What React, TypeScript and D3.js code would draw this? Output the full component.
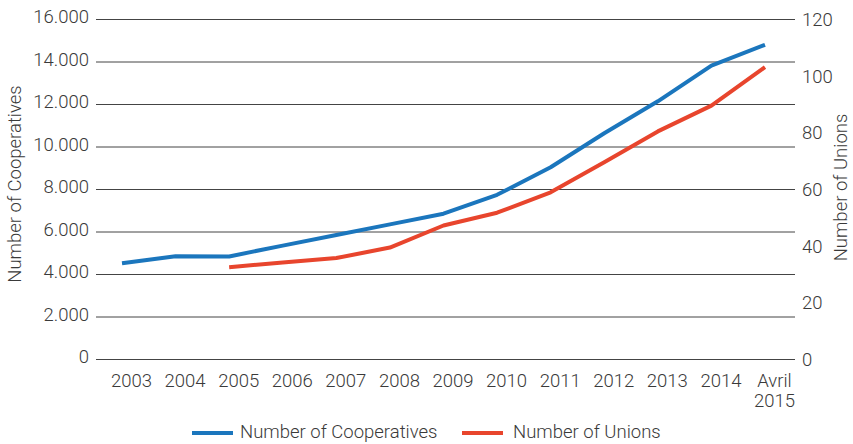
import React from "react";
import * as d3 from "d3";

const categories = ["2003","2004","2005","2006","2007","2008","2009","2010","2011","2012","2013","2014","Avril 2015"];
const cooperatives = [4530, 4860, 4850, 5360, 5860, 6360, 6860, 7750, 9050, 10650, 12150, 13830, 14810];
const unions: (number | null)[] = [null, null, 32.6, 34.2, 35.8, 39.5, 47.3, 51.8, 59.0, 69.6, 80.5, 89.6, 103.2];
const leftTicks = [0, 2000, 4000, 6000, 8000, 10000, 12000, 14000, 16000];
const rightTicks = [0, 20, 40, 60, 80, 100, 120];
const seriesNames = ["Number of Cooperatives", "Number of Unions"];

const W = 853, H = 444;
const BLUE = "#1b76bd";
const RED = "#e8452d";
const TEXT = "#3a3a3a";
const FONT = "Roboto, 'Liberation Sans', sans-serif";

export default function App() {
  const x = d3.scalePoint<string>().domain(categories).range([122, 765]);
  const yL = d3.scaleLinear().domain([0, 16000]).range([359.5, 19.5]);
  const yR = d3.scaleLinear().domain([0, 120]).range([359.5, 19.5]);
  const fmt = (v: number) => d3.format(",")(v).replace(/,/g, ".");

  const lineL = d3.line<number>()
    .x((_, i) => x(categories[i])!)
    .y((d) => yL(d));
  const lineR = d3.line<number | null>()
    .defined((d) => d != null)
    .x((_, i) => x(categories[i])!)
    .y((d) => yR(d as number));

  return (
    <svg width={W} height={H} style={{ position: "absolute", left: 0, top: 0, background: "#fff" }}
      fontFamily={FONT} fontWeight={300}>
      {leftTicks.map((t) => (
        <line key={"g" + t} x1={96} x2={795} y1={yL(t)} y2={yL(t)} stroke="#444" strokeWidth={1} />
      ))}
      {leftTicks.map((t) => (
        <text key={"l" + t} x={89} y={yL(t) + 3.5} textAnchor="end" fontSize={18.5} fill={TEXT}>{fmt(t)}</text>
      ))}
      {rightTicks.map((t) => (
        <text key={"r" + t} x={802} y={yR(t) + 6.6} textAnchor="start" fontSize={18.5} fill={TEXT}>{t}</text>
      ))}
      {categories.map((c) => {
        const parts = c.split(" ");
        return (
          <text key={"x" + c} x={x(c)! + 9.5} y={387} textAnchor="middle" fontSize={18.5} fill={TEXT}>
            {parts.map((p, i) => (
              <tspan key={i} x={x(c)! + 9.5} dy={i === 0 ? 0 : 20}>{p}</tspan>
            ))}
          </text>
        );
      })}
      <text transform="translate(20.5,184) rotate(-90)" textAnchor="middle" fontSize={18.5} fill={TEXT}>Number of Cooperatives</text>
      <text transform="translate(847,187.5) rotate(-90)" textAnchor="middle" fontSize={18.5} fill={TEXT}>Number of Unions</text>

      <path d={lineL(cooperatives) || ""} fill="none" stroke={BLUE} strokeWidth={4} strokeLinejoin="round" />
      <path d={lineR(unions) || ""} fill="none" stroke={RED} strokeWidth={4} strokeLinejoin="round" />

      <line x1={192} x2={233} y1={433} y2={433} stroke={BLUE} strokeWidth={4} />
      <text x={240} y={437.5} fontSize={18.5} fill={TEXT}>{seriesNames[0]}</text>
      <line x1={462} x2={503} y1={433} y2={433} stroke={RED} strokeWidth={4} />
      <text x={513} y={437.5} fontSize={18.5} fill={TEXT}>{seriesNames[1]}</text>
    </svg>
  );
}
